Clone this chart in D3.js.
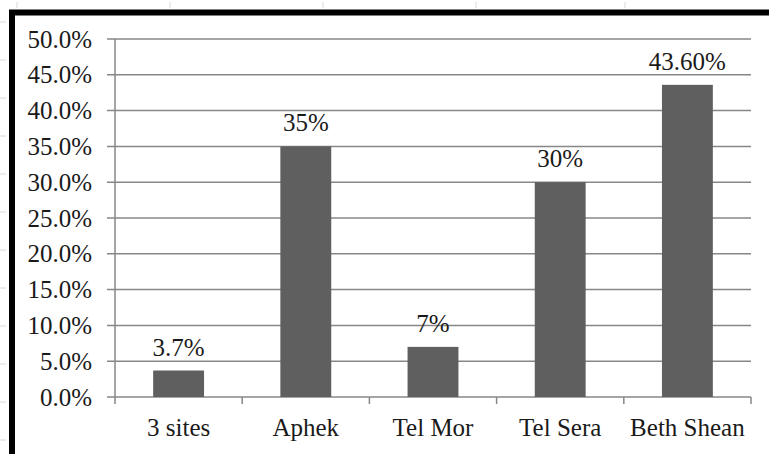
<!DOCTYPE html>
<html>
<head>
<meta charset="utf-8">
<script src="https://cdn.jsdelivr.net/npm/d3@7"></script>
<style>
  html, body { margin: 0; padding: 0; background: #fff; }
  svg { display: block; }
  svg text { font-family: "Liberation Serif"; font-size: 25px; }
</style>
</head>
<body>
<div id="chart"></div>
<script>
// data
const categories = ["3 sites", "Aphek", "Tel Mor", "Tel Sera", "Beth Shean"];
const values = [0.037, 0.35, 0.07, 0.30, 0.436];
const valueLabels = ["3.7%", "35%", "7%", "30%", "43.60%"];
const yTicks = [0, 0.05, 0.10, 0.15, 0.20, 0.25, 0.30, 0.35, 0.40, 0.45, 0.50];

const WIDTH = 769,
    HEIGHT = 454;

const margins = {
    top: 39,
    left: 115,
    bottom: 57,
    right: 18
};

const width = WIDTH - margins.left - margins.right,
    height = HEIGHT - margins.top - margins.bottom;

const FONT = "Liberation Serif";
const FONT_SIZE = "25px";
const GRID = "#878787";

const svg = d3.select("#chart")
    .append("svg")
    .attr("width", WIDTH)
    .attr("height", HEIGHT);

svg.append("rect")
    .attr("width", WIDTH)
    .attr("height", HEIGHT)
    .attr("fill", "#fff");

// faint sheet marks outside the frame
const marks = svg.append("g").attr("stroke", "#d8d8d8").attr("stroke-width", 1);
[22, 60, 98, 136, 174, 212, 250, 288, 326, 364, 402, 440].forEach(yy => {
    marks.append("line").attr("x1", 0).attr("x2", 6).attr("y1", yy).attr("y2", yy);
});
[17, 170, 323, 476, 625].forEach(xx => {
    marks.append("line").attr("x1", xx).attr("x2", xx).attr("y1", 2).attr("y2", 8);
});

// black frame (left + top)
svg.append("path")
    .attr("d", `M12,${HEIGHT} L12,12.5 L${WIDTH},12.5`)
    .attr("fill", "none")
    .attr("stroke", "#000")
    .attr("stroke-width", 6);

const y = d3.scaleLinear()
    .domain([0, 0.5])
    .range([height, 0]);

const x = d3.scaleBand()
    .domain(categories)
    .range([0, width])
    .paddingInner(0.6)
    .paddingOuter(0.3);

const chart = svg.append("g")
    .attr("transform", `translate(${margins.left}, ${margins.top})`);

// gridlines (extend a little left of the axis, like the tick marks)
chart.append("g")
    .selectAll("line")
    .data(yTicks)
    .join("line")
    .attr("x1", -8)
    .attr("x2", width)
    .attr("y1", d => y(d))
    .attr("y2", d => y(d))
    .attr("stroke", GRID)
    .attr("stroke-width", 1.5);

// y axis labels
const axisY = d3.axisLeft(y)
    .tickValues(yTicks)
    .tickFormat(d3.format(".1%"))
    .tickSize(0)
    .tickPadding(23);

const gy = chart.append("g").call(axisY);
gy.attr("font-family", null).attr("font-size", null);
gy.select(".domain").remove();
gy.selectAll(".tick text")
    .style("font-family", FONT)
    .style("font-size", FONT_SIZE)
    .attr("fill", "#1a1a1a");

// y axis line
chart.append("line")
    .attr("x1", 0).attr("x2", 0)
    .attr("y1", y(0.5)).attr("y2", y(0))
    .attr("stroke", GRID)
    .attr("stroke-width", 1.5);

// x axis: boundary ticks between categories
const step = x.step();
const bounds = d3.range(categories.length + 1).map(i => i * step);
chart.append("g")
    .selectAll("line")
    .data(bounds)
    .join("line")
    .attr("x1", d => d).attr("x2", d => d)
    .attr("y1", height).attr("y2", height + 7)
    .attr("stroke", GRID)
    .attr("stroke-width", 1.5);

const axisX = d3.axisBottom(x).tickSize(0).tickPadding(21);
const gx = chart.append("g")
    .attr("transform", `translate(0, ${height})`)
    .call(axisX);
gx.attr("font-family", null).attr("font-size", null);
gx.select(".domain").remove();
gx.selectAll(".tick text")
    .style("font-family", FONT)
    .style("font-size", FONT_SIZE)
    .attr("fill", "#1a1a1a");

// bars
chart.append("g")
    .selectAll("rect")
    .data(values)
    .join("rect")
    .attr("x", (d, i) => x(categories[i]))
    .attr("y", d => y(d))
    .attr("width", x.bandwidth())
    .attr("height", d => height - y(d))
    .attr("fill", "#5f5f5f");

// value labels
chart.append("g")
    .selectAll("text")
    .data(values)
    .join("text")
    .attr("x", (d, i) => x(categories[i]) + x.bandwidth() / 2)
    .attr("y", d => y(d) - 15)
    .attr("text-anchor", "middle")
    .style("font-family", FONT)
    .style("font-size", FONT_SIZE)
    .attr("fill", "#1a1a1a")
    .text((d, i) => valueLabels[i]);
</script>
</body>
</html>
